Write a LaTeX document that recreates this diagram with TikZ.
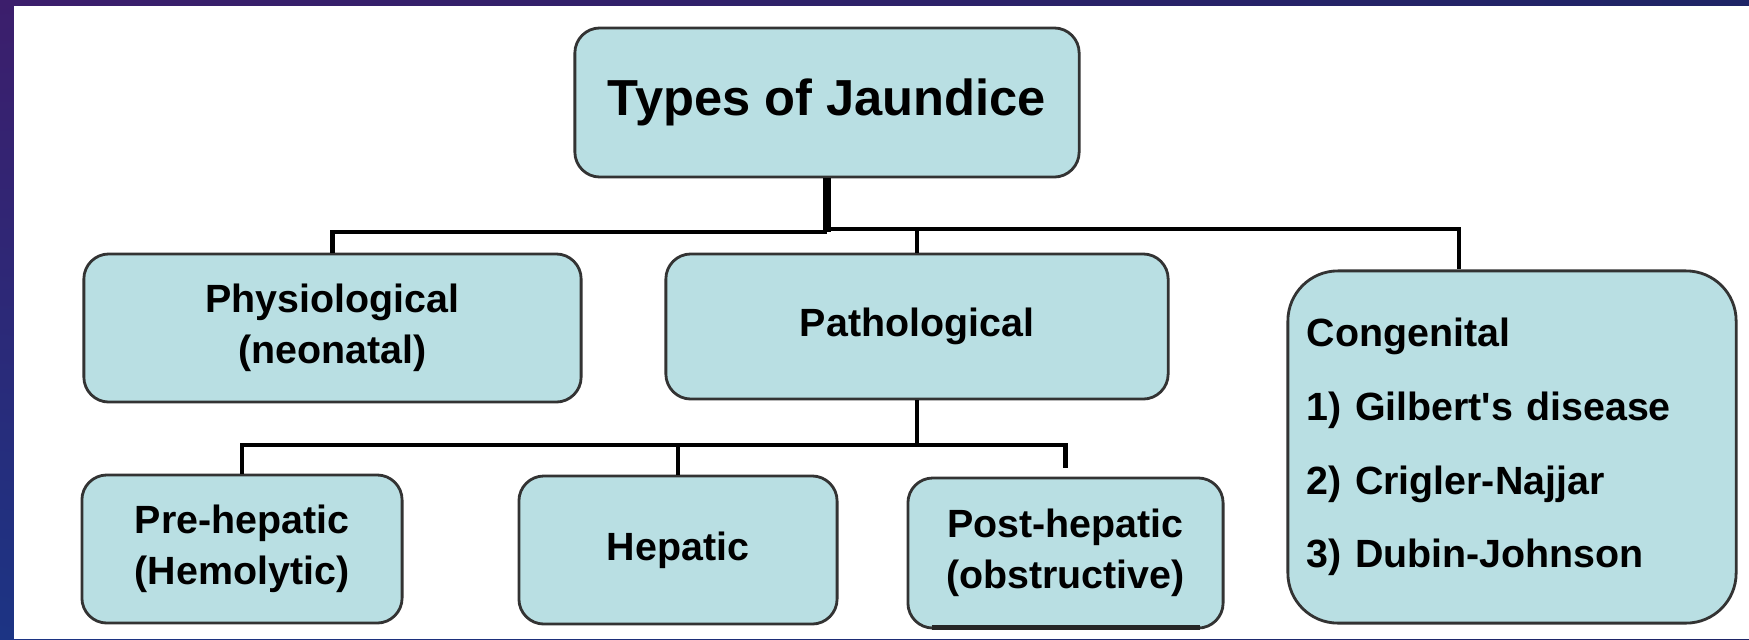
\documentclass[tikz,border=0pt]{standalone}
\usepackage{fontspec}
\setmainfont{Liberation Sans}
\usetikzlibrary{shadings}

\definecolor{boxfill}{RGB}{185,223,227}
\definecolor{slidepurple}{RGB}{60,30,108}
\definecolor{slidenavy}{RGB}{30,36,102}
\definecolor{slideblue}{RGB}{28,52,132}

\tikzset{
  kind/.style={draw=black!80, line width=0.8pt, fill=boxfill, rounded corners=0.25cm,
    align=center, inner sep=0pt, font=\fontsize{11.2}{14.5}\selectfont\bfseries},
  link/.style={black, line width=1.2pt},
}

\begin{document}
\begin{tikzpicture}[x=0.01cm, y=-0.01cm]
            % slide frame
            \useasboundingbox (0,0) rectangle (1749,639);
            \shade[upper left=slidepurple, upper right=slidenavy, lower left=slideblue, lower right=slidenavy] (0,0) rectangle (1749,639);
            \fill[white] (14,6) rectangle (1749,639);

            \node[kind, minimum width=5.04cm, minimum height=1.49cm, font=\fontsize{14.4}{17}\selectfont\bfseries] (title) at (827,102.5) {Types of Jaundice};

            \node[kind, minimum width=4.97cm, minimum height=1.48cm] (phys) at (332.5,328) {Physiological\\(neonatal)};
            \node[kind, minimum width=5.02cm, minimum height=1.45cm] (path) at (917,326.5) {Pathological};
            \node[kind, rounded corners=0.5cm, minimum width=4.48cm, minimum height=3.52cm, text width=4.1cm, inner xsep=0.19cm, align=left,
                  font=\fontsize{11.2}{21}\selectfont\bfseries] (cong) at (1512,447)
                  {Congenital\\1) Gilbert\textquotesingle s disease\\2) Crigler-Najjar\\3) Dubin-Johnson};

            \node[kind, minimum width=3.20cm, minimum height=1.48cm] (pre) at (242,549) {Pre-hepatic\\(Hemolytic)};
            \node[kind, minimum width=3.18cm, minimum height=1.48cm] (hep) at (678,550) {Hepatic};
            \node[kind, minimum width=3.15cm, minimum height=1.50cm] (post) at (1065.5,553) {Post-hepatic\\(obstructive)};
            \draw[black!85, line width=1.5pt] ([xshift=0.25cm, yshift=0.02cm]post.south west) -- ([xshift=-0.25cm, yshift=0.02cm]post.south east);

            % upper tree
            \coordinate (split) at (827,232);
            \coordinate (splitr) at (827,229);
            \draw[link, line width=2pt] (title.south) -- (split);
            \draw[link] (phys.north) |- (split);
            \draw[link] (split) -- (splitr) -| ([xshift=-0.53cm]cong.north);
            \draw[link] (splitr) -| (path.north);

            % lower tree
            \coordinate (fork) at (917,445);
            \draw[link] (path.south) -- (fork);
            \draw[link] (pre.north) |- (fork) -| ([yshift=0.09cm]post.north);
            \draw[link] (hep.north) -- (hep.north |- fork);
        \end{tikzpicture}
\end{document}
